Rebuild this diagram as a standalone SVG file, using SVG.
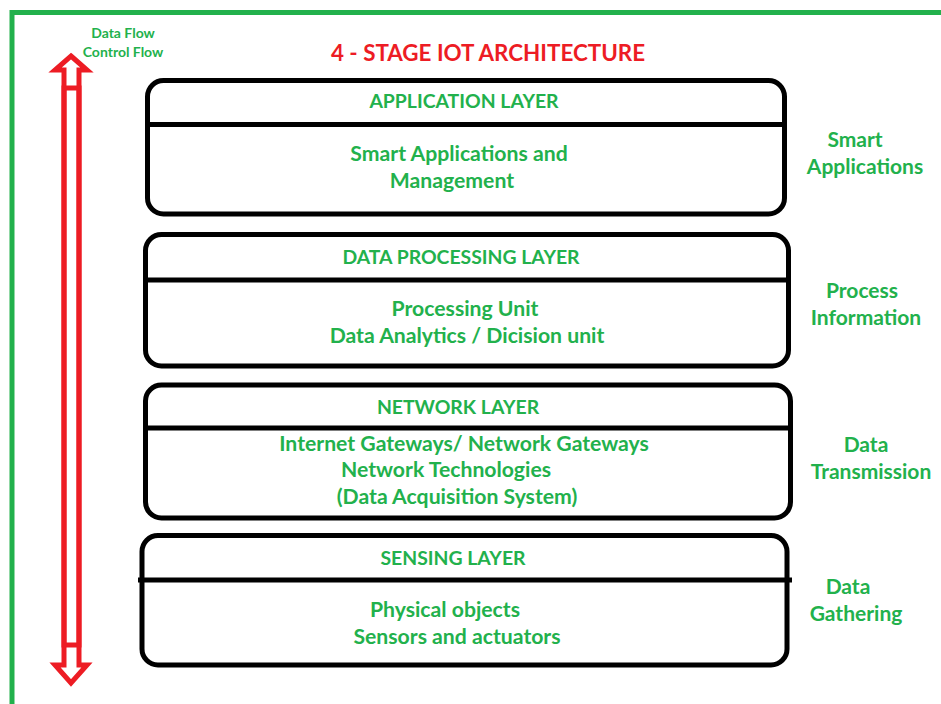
<svg xmlns="http://www.w3.org/2000/svg" width="941" height="704" viewBox="0 0 941 704">
  <style>
    .frame { stroke: #22b14c; stroke-width: 5; fill: none; }
    .layer { fill: #ffffff; stroke: #000000; stroke-width: 5; }
    .divider { stroke: #000000; stroke-width: 5; fill: none; }
    .flow { stroke: #ed1c24; stroke-width: 5; stroke-linejoin: miter; }
    text { font-family: Lato, "Open Sans", "Liberation Sans", sans-serif; font-weight: bold; text-anchor: middle; }
    .title { fill: #ed1c24; font-size: 22.4px; }
    .head { fill: #22b14c; font-size: 19.4px; }
    .body { fill: #22b14c; font-size: 21.2px; }
    .side { fill: #22b14c; font-size: 21px; }
    .small { fill: #22b14c; font-size: 14px; }
  </style>

  <!-- outer green frame: top and left edges only -->
  <path class="frame" d="M12,704 L12,12.5 L941,12.5"/>

  <!-- legend and title -->
  <text class="small" x="123" y="38">Data Flow</text>
  <text class="small" x="123" y="57">Control Flow</text>
  <text class="title" x="488" y="61">4 - STAGE IOT ARCHITECTURE</text>

  <!-- connectors: bidirectional data/control flow arrow -->
  <g id="connectors">
    <path class="flow" fill="#ffffff" d="M71,56 L87,70 L79,70 L79,645 L64,645 L64,70 L55,70 Z"/>
    <path class="flow" fill="none" d="M64,88 L79,88 L79,665 L87,665 L71,683 L55,665 L64,665 Z"/>
  </g>

  <!-- application layer -->
  <g id="application-layer">
    <rect class="layer" x="147.5" y="80.5" width="637" height="133.5" rx="16"/>
    <line class="divider" x1="147.5" y1="124.5" x2="784.5" y2="124.5"/>
    <text class="head" x="464" y="108">APPLICATION LAYER</text>
    <text class="body" x="459" y="161">Smart Applications and</text>
    <text class="body" x="452" y="188">Management</text>
    <text class="side" x="855" y="147">Smart</text>
    <text class="side" x="865" y="174">Applications</text>
  </g>

  <!-- data processing layer -->
  <g id="data-processing-layer">
    <rect class="layer" x="145.5" y="234.5" width="643" height="131.5" rx="16"/>
    <line class="divider" x1="145.5" y1="280" x2="788.5" y2="280"/>
    <text class="head" x="461" y="264">DATA PROCESSING LAYER</text>
    <text class="body" x="465" y="316">Processing Unit</text>
    <text class="body" x="467" y="343">Data Analytics / Dicision unit</text>
    <text class="side" x="862" y="298">Process</text>
    <text class="side" x="866" y="325">Information</text>
  </g>

  <!-- network layer -->
  <g id="network-layer">
    <rect class="layer" x="145.5" y="385" width="645" height="133" rx="16"/>
    <line class="divider" x1="145.5" y1="428" x2="790.5" y2="428"/>
    <text class="head" x="458" y="414">NETWORK LAYER</text>
    <text class="body" x="464" y="451">Internet Gateways/ Network Gateways</text>
    <text class="body" x="446" y="477">Network Technologies</text>
    <text class="body" x="457" y="504">(Data Acquisition System)</text>
    <text class="side" x="866" y="452">Data</text>
    <text class="side" x="871" y="479">Transmission</text>
  </g>

  <!-- sensing layer -->
  <g id="sensing-layer">
    <rect class="layer" x="142" y="535.5" width="645" height="129.5" rx="16"/>
    <line class="divider" x1="138" y1="580" x2="792" y2="580"/>
    <text class="head" x="453" y="565">SENSING LAYER</text>
    <text class="body" x="445" y="617">Physical objects</text>
    <text class="body" x="457" y="644">Sensors and actuators</text>
    <text class="side" x="848" y="594">Data</text>
    <text class="side" x="856" y="621">Gathering</text>
  </g>
</svg>
